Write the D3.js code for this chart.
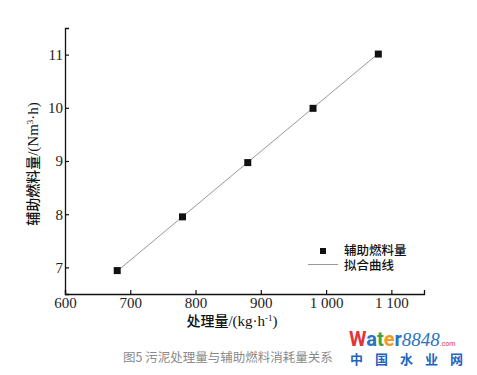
<!DOCTYPE html>
<html lang="zh">
<head>
  <meta charset="UTF-8">
  <title>图5</title>
  <style>
    html, body { margin: 0; background: #fff; }
    svg { display: block; }
    .cjk { font-family: "Noto Sans CJK SC", sans-serif; }
    .serif { font-family: "Liberation Serif", "DejaVu Serif", serif; }
  </style>
</head>
<body>
  <svg id="chart" width="477" height="375"></svg>
  <script src="https://cdn.jsdelivr.net/npm/d3@7"></script>
  <script>
    // 数据
    const xVals = [680, 780, 880, 980, 1080]
    const yVals = [6.94, 7.95, 8.97, 9.99, 11.01]
    const fitX = [680, 1080]
    const fitY = [6.93, 11.02]
    const xTicks = [600, 700, 800, 900, 1000, 1100]
    const yTicks = [7, 8, 9, 10, 11]
    const xTickLabels = ['600', '700', '800', '900', '1 000', '1 100']

    const svg = d3.select('#chart')
    const plotL = 65, plotR = 424, plotT = 28, plotB = 294

    const x = d3.scaleLinear().domain([600, 1150]).range([plotL, plotR])
    const y = d3.scaleLinear().domain([6.5, 11.5]).range([plotB, plotT])

    // 坐标轴
    const xAxis = svg.append('g').attr('transform', `translate(0,${plotB})`)
      .call(d3.axisBottom(x).tickValues(xTicks).tickSizeInner(-4).tickSizeOuter(-4)
        .tickPadding(3).tickFormat((d, i) => xTickLabels[i]))
    const yAxis = svg.append('g').attr('transform', `translate(${plotL},0)`)
      .call(d3.axisLeft(y).tickValues(yTicks).tickSizeInner(-4).tickSizeOuter(-4)
        .tickPadding(2).tickFormat(d3.format('d')))
    svg.selectAll('g.tick text')
      .attr('font-family', '"Liberation Serif", "DejaVu Serif", serif')
      .attr('font-size', 15)
      .attr('fill', '#222')
    svg.selectAll('.domain').attr('stroke', '#111').attr('stroke-width', 1.3)
    svg.selectAll('.tick line').attr('stroke', '#111').attr('stroke-width', 1.2)

    // 拟合曲线
    const line = d3.line().x(d => x(d[0])).y(d => y(d[1]))
    svg.append('path')
      .datum(fitX.map((v, i) => [v, fitY[i]]))
      .attr('d', line)
      .attr('fill', 'none')
      .attr('stroke', '#999')
      .attr('stroke-width', 1)

    // 数据点
    svg.selectAll('rect.pt')
      .data(xVals)
      .join('rect')
      .attr('class', 'pt')
      .attr('x', d => x(d) - 3.5)
      .attr('y', (d, i) => y(yVals[i]) - 3.5)
      .attr('width', 7)
      .attr('height', 7)
      .attr('fill', '#111')

    // 图例
    const lg = svg.append('g')
    lg.append('rect').attr('x', 320).attr('y', 248).attr('width', 6).attr('height', 6).attr('fill', '#111')
    lg.append('line').attr('x1', 308).attr('x2', 338).attr('y1', 264.5).attr('y2', 264.5)
      .attr('stroke', '#999').attr('stroke-width', 1)
    lg.append('text').attr('class', 'cjk').attr('x', 344).attr('y', 255)
      .attr('font-size', 12.5).attr('font-weight', 500).attr('fill', '#111').text('辅助燃料量')
    lg.append('text').attr('class', 'cjk').attr('x', 344).attr('y', 270)
      .attr('font-size', 12.5).attr('font-weight', 500).attr('fill', '#111').text('拟合曲线')

    // 轴标题
    const yl = svg.append('text')
      .attr('transform', 'translate(38,164) rotate(-90)')
      .attr('text-anchor', 'middle')
      .attr('font-size', 14).attr('fill', '#111')
    yl.append('tspan').attr('class', 'cjk').attr('font-weight', 500).text('辅助燃料量')
    yl.append('tspan').attr('class', 'serif').attr('font-size', 15).text('/(Nm')
    yl.append('tspan').attr('class', 'serif').attr('font-size', 9).attr('dy', -5).text('3')
    yl.append('tspan').attr('class', 'serif').attr('font-size', 15).attr('dy', 5).text('·h)')

    const xl = svg.append('text')
      .attr('x', 232).attr('y', 326)
      .attr('text-anchor', 'middle')
      .attr('font-size', 14).attr('fill', '#111')
    xl.append('tspan').attr('class', 'cjk').attr('font-weight', 500).text('处理量')
    xl.append('tspan').attr('class', 'serif').attr('font-size', 15).text('/(kg·h')
    xl.append('tspan').attr('class', 'serif').attr('font-size', 9).attr('dy', -5).text('-1')
    xl.append('tspan').attr('class', 'serif').attr('font-size', 15).attr('dy', 5).text(')')

    // 图题
    svg.append('text').attr('class', 'cjk')
      .attr('x', 123).attr('y', 362)
      .attr('font-size', 12.5).attr('fill', '#8a8a8a')
      .text('图5 污泥处理量与辅助燃料消耗量关系')

    // 水印
    const wm = svg.append('text').attr('x', 349).attr('y', 346)
      .attr('font-family', 'Roboto, sans-serif').attr('font-weight', 700).attr('font-size', 20)
    const letters = [['W', '#e2353a'], ['a', '#2b72c2'], ['t', '#3fa43f'], ['e', '#f29a1d'], ['r', '#2b72c2']]
    letters.forEach(l => wm.append('tspan').attr('fill', l[1]).text(l[0]))
    wm.append('tspan').attr('fill', '#2b72c2').attr('font-family', 'Liberation Serif, serif')
      .attr('font-style', 'italic').attr('font-weight', 400).attr('font-size', 19).text('8848')
    wm.append('tspan').attr('fill', '#e2353a').attr('font-size', 7).attr('font-weight', 400).text('.com')
    svg.append('text').attr('class', 'cjk').attr('x', 350).attr('y', 364)
      .attr('font-size', 13).attr('font-weight', 700).attr('fill', '#1f63c0')
      .attr('letter-spacing', 12).text('中国水业网')
  </script>
</body>
</html>
